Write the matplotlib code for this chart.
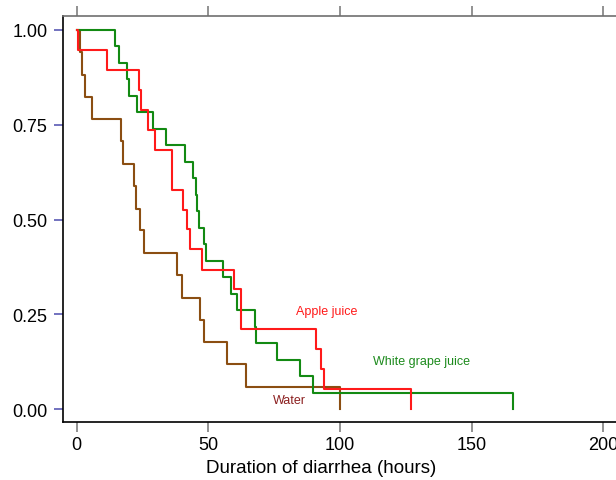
import matplotlib
import matplotlib.pyplot as plt

matplotlib.use("agg")

plt.rcParams["font.family"] = ["Liberation Sans", "DejaVu Sans"]

# Kaplan-Meier steps (time in hours, survival after each step)
water_t = [0, 1.3, 2.1, 3.3, 5.7, 16.7, 17.7, 21.6, 22.5, 23.9, 25.4,
           38.2, 39.8, 46.7, 48.2, 57.0, 64.4, 100.0]
water_s = [1.0, 0.941, 0.882, 0.824, 0.765, 0.706, 0.647, 0.588, 0.529,
           0.471, 0.412, 0.353, 0.294, 0.235, 0.176, 0.118, 0.059, 0.0]

apple_t = [0, 0.5, 11.4, 23.8, 24.5, 27.2, 29.7, 36.3, 40.3, 42.0, 43.0,
           47.5, 59.9, 62.4, 90.8, 92.9, 93.8, 127.0]
apple_s = [1.0, 0.947, 0.895, 0.842, 0.789, 0.737, 0.684, 0.579, 0.526,
           0.474, 0.421, 0.368, 0.316, 0.211, 0.158, 0.105, 0.053, 0.0]

grape_t = [0, 14.5, 16.2, 19.0, 19.9, 22.8, 29.1, 33.8, 41.1, 44.0, 45.2,
           45.7, 46.6, 48.3, 49.0, 55.4, 58.6, 61.0, 67.5, 68.0, 76.1,
           84.8, 89.7, 165.5]
grape_s = [1.0, 0.957, 0.913, 0.870, 0.826, 0.783, 0.739, 0.696, 0.652,
           0.609, 0.565, 0.522, 0.478, 0.435, 0.391, 0.348, 0.304, 0.261,
           0.217, 0.174, 0.130, 0.087, 0.043, 0.0]

x_ticks = [0, 50, 100, 150, 200]
y_ticks = [0.0, 0.25, 0.5, 0.75, 1.0]
y_labels = ["0.00", "0.25", "0.50", "0.75", "1.00"]

fig = plt.figure(figsize=(6.16, 4.81), dpi=100)
ax = fig.add_axes([0.1028, 0.12, 0.9037, 0.8455])

ax.step(water_t, water_s, where="post", color="#8b4e12", lw=1.5)
ax.step(grape_t, grape_s, where="post", color="#138a13", lw=1.5)
ax.step(apple_t, apple_s, where="post", color="#ff1a1a", lw=1.5)

ax.text(94.9, 0.259, "Apple juice", color="#ff1a1a", fontsize=9,
        ha="center", va="center")
ax.text(130.8, 0.127, "White grape juice", color="#1c8a1c", fontsize=9,
        ha="center", va="center")
ax.text(80.9, 0.024, "Water", color="#8b1f1f", fontsize=9,
        ha="center", va="center")

ax.set_xlim(-5.1, 206.3)
ax.set_ylim(-0.035, 1.038)
ax.set_xticks(x_ticks)
ax.set_yticks(y_ticks)
ax.set_yticklabels(y_labels)

ax.tick_params(axis="x", which="both", direction="out", length=7, width=1.2,
               color="#7f7f7f", top=True, labeltop=False, labelsize=13, pad=3)
ax.tick_params(axis="y", direction="out", length=6.5, width=1.2,
               color="#5a5ab4", labelsize=13, pad=5)

ax.spines["left"].set_color("black")
ax.spines["bottom"].set_color("black")
ax.spines["top"].set_color("#6f6f6f")
ax.spines["right"].set_visible(False)
for s in ["left", "bottom", "top"]:
    ax.spines[s].set_linewidth(1.2)

# the axes run past the right edge, so centre the label by hand
ax.set_xlabel("Duration of diarrhea (hours)", fontsize=13.5, labelpad=4,
              x=0.463)

fig.savefig("out.png", dpi=100)
plt.close(fig)
